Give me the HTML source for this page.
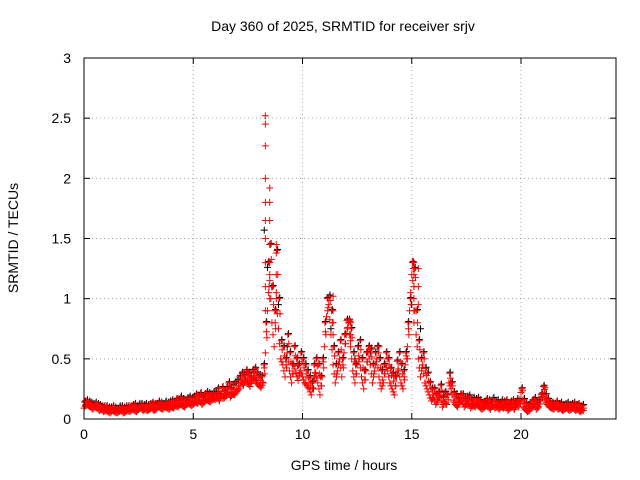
<!DOCTYPE html>
<html><head><meta charset="utf-8"><style>
body{margin:0;background:#fff}
svg{display:block;font-family:"Liberation Sans",sans-serif}
</style></head><body>
<svg id="chart" width="640" height="480" xmlns="http://www.w3.org/2000/svg">
<text x="343" y="31" font-size="14" text-anchor="middle">Day 360 of 2025, SRMTID for receiver srjv</text>
<text x="344" y="470" font-size="14" text-anchor="middle">GPS time / hours</text>
<text transform="translate(18,238) rotate(-90)" font-size="14" text-anchor="middle">SRMTID / TECUs</text>
<g id="grid"></g>
<g id="ticks"></g>
<g id="black"></g>
<g id="red"></g>
<rect x="84" y="58" width="532" height="361" fill="none" stroke="#000"/>
</svg>
<script>
const xTicks=[0,5,10,15,20];
const yTicks=[0,0.5,1,1.5,2,2.5,3];
const yTickLabels=["0","0.5","1","1.5","2","2.5","3"];
const redVals=[
0.09,0.12,0.11,0.1,0.08,0.1,0.09,0.07,0.08,0.06,
0.07,0.06,0.05,0.07,0.06,0.05,0.06,0.07,0.05,0.06,
0.07,0.06,0.08,0.07,0.06,0.08,0.09,0.07,0.08,0.07,
0.08,0.09,0.07,0.08,0.1,0.09,0.08,0.1,0.09,0.08,
0.1,0.09,0.11,0.1,0.12,0.11,0.1,0.12,0.13,0.11,
0.12,0.14,0.13,0.15,0.12,0.14,0.16,0.15,0.14,0.17,
0.16,0.18,0.15,0.2,0.17,0.19,0.22,0.18,0.21,0.2,
0.23,0.25,0.3,0.28,0.33,0.3,0.27,0.32,0.35,0.3,
0.28,0.26,0.3,0.55,0.9,1.2,0.8,0.6,1.0,0.75,
0.5,0.45,0.35,0.55,0.4,0.3,0.45,0.38,0.32,0.4,
0.35,0.3,0.28,0.25,0.2,0.32,0.38,0.3,0.2,0.35,
0.6,0.85,0.95,0.7,0.45,0.3,0.4,0.5,0.35,0.55,
0.7,0.8,0.6,0.4,0.3,0.45,0.5,0.35,0.25,0.4,
0.55,0.45,0.3,0.4,0.5,0.35,0.25,0.3,0.45,0.4,
0.3,0.25,0.2,0.35,0.4,0.3,0.25,0.45,0.6,0.9,
1.2,1.1,0.7,0.5,0.35,0.45,0.3,0.25,0.2,0.15,
0.18,0.12,0.15,0.2,0.1,0.14,0.12,0.3,0.25,0.15,
0.12,0.1,0.14,0.15,0.1,0.12,0.13,0.09,0.11,0.1,
0.12,0.1,0.08,0.09,0.11,0.1,0.08,0.12,0.09,0.1,
0.08,0.1,0.09,0.11,0.07,0.09,0.1,0.08,0.12,0.1,
0.22,0.1,0.08,0.06,0.07,0.1,0.12,0.08,0.1,0.15,
0.22,0.15,0.12,0.1,0.09,0.08,0.1,0.08,0.09,0.07,
0.08,0.09,0.07,0.08,0.09,0.07,0.08,0.06,0.07];
const redUpper=[
0.14,0.15,0.14,0.13,0.12,0.13,0.12,0.11,0.1,0.1,
0.1,0.09,0.09,0.1,0.09,0.08,0.1,0.1,0.09,0.1,
0.1,0.1,0.11,0.12,0.1,0.12,0.12,0.11,0.12,0.11,
0.12,0.13,0.12,0.12,0.14,0.13,0.12,0.14,0.13,0.14,
0.15,0.14,0.16,0.15,0.18,0.16,0.15,0.17,0.18,0.17,
0.18,0.2,0.19,0.21,0.18,0.2,0.22,0.21,0.2,0.22,
0.22,0.25,0.2,0.26,0.23,0.26,0.3,0.25,0.28,0.3,
0.32,0.35,0.38,0.36,0.4,0.38,0.35,0.4,0.42,0.38,
0.36,0.35,0.45,0.8,1.3,1.45,1.1,0.9,1.4,1.0,
0.65,0.6,0.5,0.7,0.55,0.45,0.6,0.5,0.45,0.55,
0.5,0.45,0.4,0.35,0.3,0.45,0.5,0.45,0.35,0.5,
0.8,1.0,1.02,0.9,0.6,0.45,0.55,0.65,0.5,0.7,
0.82,0.82,0.75,0.55,0.45,0.6,0.65,0.5,0.4,0.55,
0.6,0.58,0.45,0.55,0.6,0.5,0.4,0.45,0.55,0.5,
0.42,0.38,0.35,0.48,0.55,0.45,0.4,0.55,0.8,1.0,
1.3,1.25,0.9,0.65,0.5,0.55,0.42,0.38,0.3,0.25,
0.25,0.2,0.22,0.28,0.18,0.22,0.2,0.38,0.3,0.22,
0.2,0.17,0.2,0.2,0.16,0.18,0.19,0.15,0.17,0.16,
0.17,0.15,0.13,0.14,0.16,0.15,0.13,0.17,0.14,0.15,
0.13,0.15,0.14,0.15,0.12,0.14,0.15,0.13,0.16,0.15,
0.25,0.16,0.13,0.11,0.12,0.15,0.17,0.13,0.15,0.2,
0.27,0.2,0.16,0.14,0.13,0.12,0.14,0.12,0.13,0.11,
0.12,0.13,0.11,0.12,0.13,0.11,0.12,0.1,0.11];
const spikeTimes=[8.3,8.3,8.3,8.3,8.3,8.3,8.3,8.3,8.3,8.3,8.5,8.5,8.5,8.5,8.5,8.5,8.5,8.8,8.8,8.8,8.8,8.8,11.4,11.4,11.4,11.4,12.2,12.2,12.2,15.1,15.1,15.1,15.1,15.1,15.1,15.3,15.3,15.3,13.5,14.8,16.8,21.1];
const spikeVals=[2.52,2.45,2.27,2.0,1.8,1.65,1.5,1.3,1.1,0.9,1.92,1.8,1.65,1.45,1.3,1.15,1.0,1.45,1.38,1.2,1.05,0.9,1.02,0.9,0.8,0.7,0.8,0.7,0.65,1.3,1.2,1.1,1.0,0.9,0.8,1.25,1.1,0.95,0.6,0.5,0.3,0.26];
const blackTimes=[8.25,8.4,8.6,8.9,9.3,9.8,11.3,12.4,13.1,15.0,15.4,7.5,7.9,10.5];
const blackVals=[1.57,1.26,1.1,0.95,0.6,0.45,0.75,0.5,0.55,0.95,0.75,0.3,0.32,0.25];
const NS="http://www.w3.org/2000/svg";
const X0=84,X1=616,Y0=419,Y1=58,XMAX=(616-84)/21.85,YMAX=3;
const sx=t=>X0+t/XMAX*(X1-X0);
const sy=v=>Y0-v/YMAX*(Y0-Y1);
function mk(tag,attrs,parent){const e=document.createElementNS(NS,tag);for(const k in attrs)e.setAttribute(k,attrs[k]);parent.appendChild(e);return e;}
const grid=document.getElementById('grid'),ticks=document.getElementById('ticks');
xTicks.forEach(t=>{const x=sx(t);
 if(t>0){const g=mk('line',{x1:x,x2:x,y1:Y1,y2:Y0,stroke:'#a0a0a0','stroke-dasharray':'1,3'},grid);
 
 }
 const l=mk('text',{x:x,y:Y0+20,'font-size':14,'text-anchor':'middle'},ticks);l.textContent=t;
 
 
 mk('line',{x1:x,x2:x,y1:Y0,y2:Y0-6,stroke:'#000'},ticks);mk('line',{x1:x,x2:x,y1:Y1,y2:Y1+6,stroke:'#000'},ticks);});
yTicks.forEach((v,i)=>{const y=sy(v);
 if(v>0&&v<3){const g=mk('line',{x1:X0,x2:X1,y1:y,y2:y,stroke:'#a0a0a0','stroke-dasharray':'1,3'},grid);
 
 }
 const l=mk('text',{x:X0-13,y:y+5,'font-size':14,'text-anchor':'end'},ticks);l.textContent=yTickLabels[i];
 
 
 mk('line',{x1:X0,x2:X0+6,y1:y,y2:y,stroke:'#000'},ticks);mk('line',{x1:X1,x2:X1-6,y1:y,y2:y,stroke:'#000'},ticks);});
function plus(t,v,color,parent,name){const x=sx(t),y=sy(v);
 const p=mk('path',{d:`M${x-3.5},${y}h7M${x},${y-3.5}v7`,stroke:color,'stroke-width':1},parent);
 
 }
const bg=document.getElementById('black'),rg=document.getElementById('red');
blackTimes.forEach((t,i)=>plus(t,blackVals[i],'#000',bg,'black-point'));
redUpper.forEach((u,i)=>plus(i*0.1+0.06,u+0.01,'#000',bg,'black-point'));
redVals.forEach((v,i)=>{
 const u=redUpper[i];
 plus(i*0.1,v,'#ff0000',rg,'red-point');
 plus(i*0.1+0.03,u,'#ff0000',rg,'red-point');
 plus(i*0.1+0.07,(v+u)/2,'#ff0000',rg,'red-point');
 plus(i*0.1+0.05,(v+(redVals[i+1]??v))/2,'#ff0000',rg,'red-point');
});
spikeTimes.forEach((t,i)=>plus(t,spikeVals[i],'#ff0000',rg,'red-spike-point'));
</script>
</body></html>
